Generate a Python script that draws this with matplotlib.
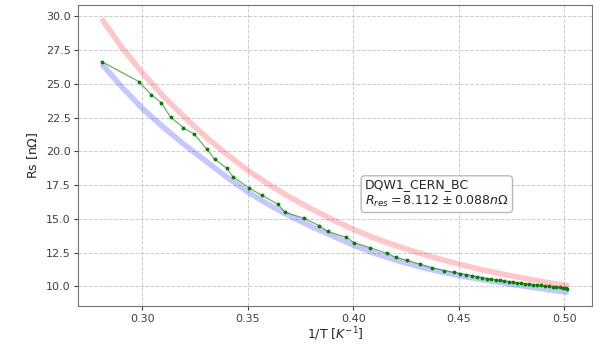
import matplotlib
matplotlib.use("Agg")
import matplotlib.pyplot as plt

# Measured data (green)
x_meas = [0.2808, 0.2984, 0.3044, 0.3090, 0.3135, 0.3196, 0.3247, 0.3308,
          0.3343, 0.3401, 0.3429, 0.3508, 0.3567, 0.3644, 0.3676, 0.3766,
          0.3838, 0.3879, 0.3967, 0.4003, 0.4080, 0.4159, 0.4200, 0.4256,
          0.4315, 0.4375, 0.4431, 0.4475, 0.4506, 0.4533, 0.4561, 0.4588,
          0.4611, 0.4632, 0.4651, 0.4675, 0.4697, 0.4716, 0.4735, 0.4754,
          0.4773, 0.4792, 0.4811, 0.4830, 0.4849, 0.4868, 0.4887, 0.4906,
          0.4925, 0.4944, 0.4962, 0.4978, 0.4993, 0.5005, 0.5012]
y_meas = [26.66, 25.18, 24.19, 23.62, 22.53, 21.75, 21.27, 20.14,
          19.43, 18.75, 18.13, 17.28, 16.74, 16.07, 15.49, 15.04,
          14.50, 14.06, 13.63, 13.24, 12.85, 12.45, 12.15, 11.91,
          11.64, 11.36, 11.16, 11.02, 10.94, 10.87, 10.77, 10.70,
          10.62, 10.57, 10.52, 10.47, 10.43, 10.39, 10.35, 10.31,
          10.27, 10.24, 10.20, 10.17, 10.13, 10.10, 10.07, 10.04,
          10.01, 9.98, 9.95, 9.92, 9.89, 9.85, 9.81]

# Upper curve (red)
x_red = [0.2808, 0.2900, 0.3000, 0.3100, 0.3200, 0.3300, 0.3400, 0.3500,
         0.3600, 0.3700, 0.3800, 0.3900, 0.4000, 0.4100, 0.4200, 0.4300,
         0.4400, 0.4500, 0.4600, 0.4700, 0.4800, 0.4900, 0.5020]
y_red = [29.85, 27.80, 25.85, 24.10, 22.55, 21.10, 19.80, 18.60,
         17.55, 16.60, 15.75, 14.95, 14.22, 13.58, 13.02, 12.52,
         12.06, 11.64, 11.26, 10.92, 10.62, 10.33, 10.03]

# Lower curve (blue)
x_blue = [0.2808, 0.2900, 0.3000, 0.3100, 0.3200, 0.3300, 0.3400, 0.3500,
          0.3600, 0.3700, 0.3800, 0.3900, 0.4000, 0.4100, 0.4200, 0.4300,
          0.4400, 0.4500, 0.4600, 0.4700, 0.4800, 0.4900, 0.5020]
y_blue = [26.50, 24.85, 23.20, 21.80, 20.50, 19.30, 18.10, 17.00,
          16.05, 15.20, 14.45, 13.75, 13.05, 12.45, 11.95, 11.50,
          11.12, 10.80, 10.52, 10.27, 10.03, 9.80, 9.55]

x_ticks = [0.30, 0.35, 0.40, 0.45, 0.50]
y_ticks = [10.0, 12.5, 15.0, 17.5, 20.0, 22.5, 25.0, 27.5, 30.0]
label_text = "DQW1_CERN_BC\n$R_{res} = 8.112 \\pm 0.088 n\\Omega$"

fig = plt.figure(figsize=(6.06, 3.45), dpi=100)
ax = fig.add_axes([0.129, 0.113, 0.848, 0.873])

ax.plot(x_red, y_red, color="red", alpha=0.22, lw=4, solid_capstyle="butt",
        solid_joinstyle="round")
ax.plot(x_blue, y_blue, color="blue", alpha=0.22, lw=4, solid_capstyle="butt",
        solid_joinstyle="round")
ax.plot(x_meas, y_meas, "-", color="green", alpha=0.6, lw=0.9)
ax.plot(x_meas, y_meas, ".", color="green", ms=3.5)

ax.grid(True, ls="--", color="0.8", lw=0.7)
ax.set_xticks(x_ticks)
ax.set_yticks(y_ticks)
ax.set_xticklabels([f"{v:.2f}" for v in x_ticks])
ax.set_yticklabels([f"{v:.1f}" for v in y_ticks])
ax.tick_params(labelsize=8, colors="0.25", length=3, pad=2.5)
for s in ax.spines.values():
    s.set_color("0.45")

ax.set_xlabel("1/T [$K^{-1}$]", fontsize=9, color="0.15", labelpad=1.5)
ax.set_ylabel("Rs [n$\\Omega$]", fontsize=9, color="0.15")

ax.text(0.4055, 16.87, label_text, fontsize=9, ha="left", va="center", color="0.15",
        bbox=dict(boxstyle="round,pad=0.3", facecolor="white", edgecolor="0.7", alpha=0.9))

fig.savefig("out.png", dpi=100)
